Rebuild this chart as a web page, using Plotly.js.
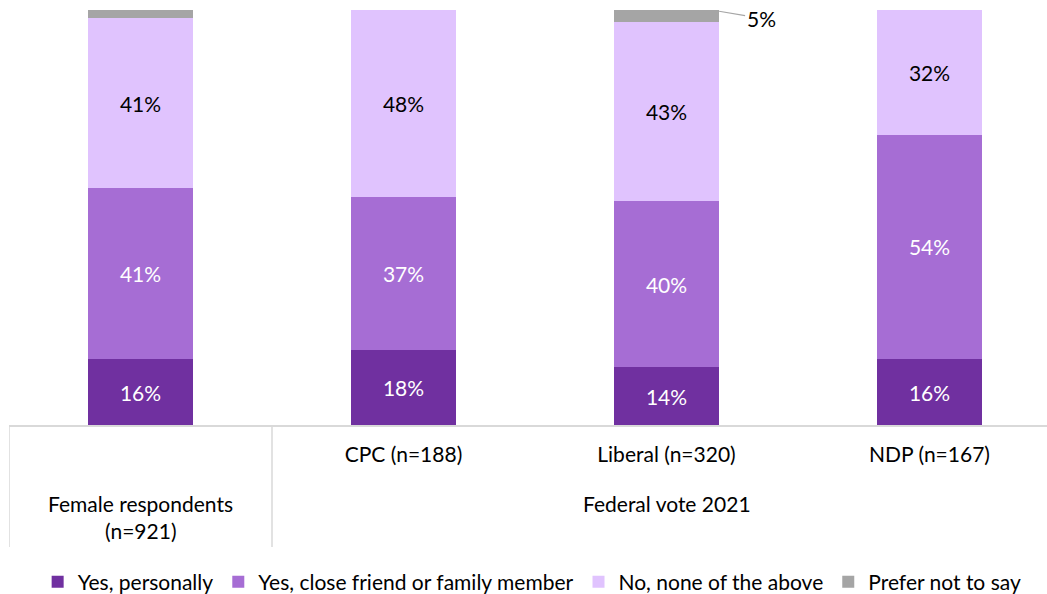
<!DOCTYPE html>
<html>
<head>
<meta charset="utf-8">
<script src="https://cdn.plot.ly/plotly-3.0.1.min.js"></script>
<style>html,body{margin:0;padding:0;background:#fff;}#chart{width:1047px;height:594px;}</style>
</head>
<body>
<div id="chart"></div>
<script>
// ---- data ----
const categories = ['Female respondents (n=921)', 'CPC (n=188)', 'Liberal (n=320)', 'NDP (n=167)'];
const tickLabels = ['', 'CPC (n=188)', 'Liberal (n=320)', 'NDP (n=167)'];
const groupLabelFemale = ['Female respondents', '(n=921)'];
const groupLabelVote = 'Federal vote 2021';
const seriesNames = ['Yes, personally', 'Yes, close friend or family member', 'No, none of the above', 'Prefer not to say'];
const yesPersonally = [16, 18, 14, 16];
const yesFriend = [41, 37, 40, 54];
const noneAbove = [41, 48, 43, 32];
const preferNot = [2, 0, 5, 0];

const colors = ['#7030A0', '#A66DD4', '#E0C3FE', '#A5A5A5'];
const labelColors = ['#FFFFFF', '#FFFFFF', '#000000', '#000000'];
const FONT = 'Lato, Calibri, Carlito, sans-serif';
const FS = 21;

const xs = categories.map((c, i) => i);
const series = [yesPersonally, yesFriend, noneAbove, preferNot];
const YMAX = 100;
const LABEL_DY = -0.85; // small visual baseline correction (data units)

const traces = [];
series.forEach((vals, s) => {
  traces.push({
    type: 'bar', x: xs, y: vals, name: seriesNames[s],
    marker: {color: colors[s], line: {width: 0}},
    width: 0.4, hoverinfo: 'skip'
  });
});

// data labels: centred on visible part of each segment
const base = xs.map(() => 0);
series.forEach((vals, s) => {
  const lx = [], ly = [], lt = [];
  vals.forEach((v, i) => {
    const b = base[i];
    const vis = Math.min(v, YMAX - b);
    if (s < 3 && v > 0) { lx.push(i); ly.push(b + vis / 2 + LABEL_DY); lt.push(v + '%'); }
    base[i] = b + v;
  });
  traces.push({
    type: 'scatter', mode: 'text', x: lx, y: ly, text: lt, showlegend: false,
    hoverinfo: 'skip', cliponaxis: false,
    textfont: {family: FONT, size: FS, color: labelColors[s]}
  });
});

// outside label for Liberal "Prefer not to say"
const libIdx = 2;
const libBase = yesPersonally[libIdx] + yesFriend[libIdx] + noneAbove[libIdx];
const libTop = Math.min(libBase + preferNot[libIdx], YMAX);

const H = 415; // plot height px
const pxToPaper = px => -px / H;

const layout = {
  width: 1047, height: 594,
  margin: {l: 9, r: 0, t: 10, b: 169, autoexpand: false},
  paper_bgcolor: '#fff', plot_bgcolor: '#fff',
  barmode: 'stack',
  showlegend: true,
  font: {family: FONT, size: FS, color: '#000'},
  xaxis: {
    range: [-0.5, -0.5 + 1038 / 263], tickvals: xs, ticktext: tickLabels,
    showgrid: false, zeroline: false, showline: true, linecolor: '#D9D9D9', linewidth: 1.5,
    ticks: '', ticklabelstandoff: 10, tickfont: {family: FONT, size: FS, color: '#000'},
    fixedrange: true, automargin: false
  },
  yaxis: {range: [0, YMAX], visible: false, fixedrange: true},
  legend: {
    orientation: 'h', x: 0.504, xanchor: 'center', y: pxToPaper(582 - 425), yanchor: 'middle',
    font: {family: FONT, size: FS, color: '#000'}, traceorder: 'normal', itemgap: 2
  },
  shapes: [-0.5, 0.5].map(xv => ({
    type: 'line', xref: 'x', yref: 'paper', x0: xv, x1: xv, y0: 0, y1: pxToPaper(547 - 425),
    line: {color: '#D9D9D9', width: 1.5}
  })),
  annotations: [
    {x: 0, xref: 'x', y: pxToPaper(503 - 425), yref: 'paper', text: groupLabelFemale[0], showarrow: false,
     yanchor: 'middle', font: {family: FONT, size: FS, color: '#000'}},
    {x: 0, xref: 'x', y: pxToPaper(530 - 425), yref: 'paper', text: groupLabelFemale[1], showarrow: false,
     yanchor: 'middle', font: {family: FONT, size: FS, color: '#000'}},
    {x: 2, xref: 'x', y: pxToPaper(503 - 425), yref: 'paper', text: groupLabelVote, showarrow: false,
     yanchor: 'middle', font: {family: FONT, size: FS, color: '#000'}},
    {x: libIdx + 0.2, xref: 'x', y: (libBase + libTop) / 2 + 1.2, yref: 'y', text: preferNot[libIdx] + '%',
     showarrow: true, arrowhead: 0, arrowwidth: 1.2, arrowcolor: '#A6A6A6', ax: 42, ay: 7,
     xanchor: 'center', yanchor: 'middle', font: {family: FONT, size: FS, color: '#000'}}
  ]
};

Plotly.newPlot('chart', traces, layout, {displayModeBar: false, staticPlot: true});
</script>
</body>
</html>
